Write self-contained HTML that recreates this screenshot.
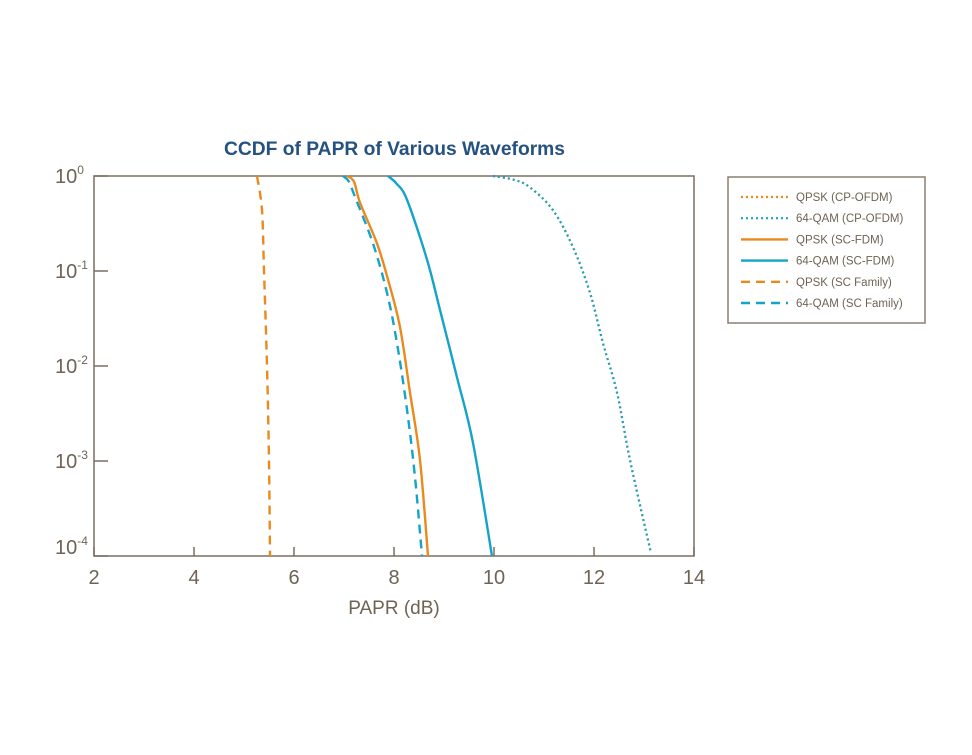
<!DOCTYPE html>
<html><head><meta charset="utf-8"><style>
body{margin:0;background:#fff;}
svg text{font-family:"Liberation Sans",sans-serif;}
</style></head><body>
<svg id="chart" width="972" height="750" viewBox="0 0 972 750" xmlns="http://www.w3.org/2000/svg">
<text x="224" y="155" font-size="19" font-weight="bold" fill="#25527f" textLength="341" lengthAdjust="spacingAndGlyphs">CCDF of PAPR of Various Waveforms</text>
<g id="plot"></g>
<text x="394" y="614" font-size="19" fill="#6e6354" text-anchor="middle">PAPR (dB)</text>
<g id="legend"></g>
</svg>
<script>
const xTicks = [2,4,6,8,10,12,14];
const yExps = [0,-1,-2,-3,-4];
const seriesNames = ["QPSK (CP-OFDM)","64-QAM (CP-OFDM)","QPSK (SC-FDM)","64-QAM (SC-FDM)","QPSK (SC Family)","64-QAM (SC Family)"];
// x values in dB, y values as log10(probability)
const qpskCpX = [9.98,10.4,10.72,11.18,11.58,11.92,12.18,12.46,12.72,13.14];
const qpskCpY = [0,-0.04,-0.12,-0.36,-0.75,-1.23,-1.76,-2.28,-2.99,-3.97];
const qamCpX = [9.98,10.4,10.72,11.18,11.58,11.92,12.18,12.46,12.72,13.14];
const qamCpY = [0,-0.04,-0.12,-0.36,-0.75,-1.23,-1.76,-2.28,-2.99,-3.97];
const qpskFdmX = [7.06,7.2,7.32,7.66,7.88,8.12,8.32,8.52,8.68];
const qpskFdmY = [0,-0.06,-0.28,-0.71,-1.09,-1.59,-2.28,-2.99,-4];
const qamFdmX = [7.88,8.05,8.26,8.66,8.92,9.26,9.58,9.96];
const qamFdmY = [0,-0.08,-0.25,-0.88,-1.41,-2.12,-2.81,-4];
const qpskScX = [5.26,5.36,5.40,5.46,5.50,5.52];
const qpskScY = [0,-0.36,-1,-2,-3,-4];
const qamScX = [6.98,7.1,7.22,7.58,7.86,8.06,8.26,8.42,8.56];
const qamScY = [0,-0.06,-0.22,-0.71,-1.23,-1.76,-2.46,-3.17,-4];

const NS="http://www.w3.org/2000/svg";
const L=94,R=694,T=176,B=556;
const xs=v=>L+(v-2)/(14-2)*(R-L);
const ys=e=>T+(0-e)/4*(B-T);
const plot=document.getElementById('plot');
function mk(tag,attrs,parent){const e=document.createElementNS(NS,tag);for(const k in attrs)e.setAttribute(k,attrs[k]);parent.appendChild(e);return e;}
const axc="#7a6f60";
const frame=mk('rect',{x:L,y:T,width:R-L,height:B-T,fill:'none',stroke:axc,'stroke-width':1.5},plot);


xTicks.forEach(t=>{
  const ln=mk('line',{x1:xs(t),x2:xs(t),y1:B,y2:B-9,stroke:axc,'stroke-width':1.5},plot);
  
  
  const tx=mk('text',{x:xs(t),y:B+28,'font-size':20,fill:'#6e6354','text-anchor':'middle'},plot);
  tx.textContent=t;
  
  
});
yExps.forEach(e=>{
  const ln=mk('line',{x1:L,x2:L+14,y1:ys(e),y2:ys(e),stroke:axc,'stroke-width':1.5},plot);
  
  
  const yy = e===-4 ? ys(e)-2 : ys(e)+7;
  const tx=mk('text',{x:55,y:yy,'font-size':20,fill:'#6e6354'},plot);
  
  
  tx.appendChild(document.createTextNode('10'));
  const sp=mk('tspan',{'font-size':12,dy:-9},tx);
  sp.textContent=e;
});
const OR="#ea8a1d",CY="#16a3c8";
const styles=[
 {c:OR,d:'2 3',w:2.2,x:qpskCpX,y:qpskCpY},
 {c:CY,d:'2 3',w:2.2,x:qamCpX,y:qamCpY},
 {c:OR,d:'',w:2.4,x:qpskFdmX,y:qpskFdmY},
 {c:CY,d:'',w:2.4,x:qamFdmX,y:qamFdmY},
 {c:OR,d:'9 6',w:2.4,x:qpskScX,y:qpskScY},
 {c:CY,d:'9 6',w:2.4,x:qamScX,y:qamScY}
];
const slugs=['qpsk-cp-ofdm','64qam-cp-ofdm','qpsk-sc-fdm','64qam-sc-fdm','qpsk-sc-family','64qam-sc-family'];
function smooth(pts){
  let d=`M${pts[0][0]},${pts[0][1]}`;
  for(let i=0;i<pts.length-1;i++){
    const p0=pts[i-1]||pts[i],p1=pts[i],p2=pts[i+1],p3=pts[i+2]||p2;
    const c1=[p1[0]+(p2[0]-p0[0])/6,p1[1]+(p2[1]-p0[1])/6];
    const c2=[p2[0]-(p3[0]-p1[0])/6,p2[1]-(p3[1]-p1[1])/6];
    d+=` C${c1[0]},${c1[1]} ${c2[0]},${c2[1]} ${p2[0]},${p2[1]}`;
  }
  return d;
}
styles.forEach((s,i)=>{
  const pts=s.x.map((v,j)=>[xs(v),ys(s.y[j])]);
  const p=mk('path',{d:smooth(pts),fill:'none',stroke:s.c,'stroke-width':s.w,'stroke-dasharray':s.d},plot);
  
  
});
const lg=document.getElementById('legend');
const box=mk('rect',{x:728,y:177,width:197,height:146,fill:'#fff',stroke:'#8a7f70','stroke-width':1.5},lg);


styles.forEach((s,i)=>{
  const y=197+i*21.2;
  const ln=mk('line',{x1:741,x2:788,y1:y,y2:y,stroke:s.c,'stroke-width':s.w,'stroke-dasharray':s.d},lg);
  
  
  const tx=mk('text',{x:796,y:y+4,'font-size':11.5,fill:'#6e6354'},lg);
  tx.textContent=seriesNames[i];
  
  
});
</script>
</body></html>
